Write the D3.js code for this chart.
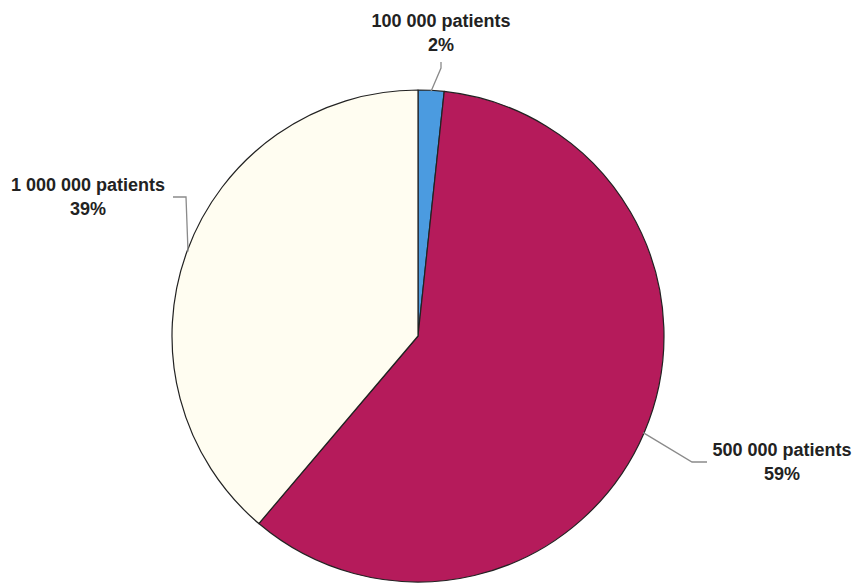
<!DOCTYPE html>
<html><head><meta charset="utf-8">
<script src="https://cdn.jsdelivr.net/npm/d3@7"></script>
<style>html,body{margin:0;padding:0;background:#fff;}</style>
</head><body>
<svg id="c" width="858" height="586"></svg>
<script>
const categories = ["100 000 patients", "500 000 patients", "1 000 000 patients"];
const values = [1.7, 59.5, 38.8];
const pctLabels = ["2%", "59%", "39%"];
const colors = ["#4b9be0", "#b51b5b", "#fffdf1"];

const svg = d3.select("#c");
const cx = 418, cy = 336, r = 246;
const g = svg.append("g").attr("transform", `translate(${cx},${cy})`);
const pie = d3.pie().sort(null).value(d => d)(values);
const arc = d3.arc().innerRadius(0).outerRadius(r);
g.selectAll("path.s").data(pie).enter().append("path")
  .attr("d", arc).attr("fill", (d, i) => colors[i])
  .attr("stroke", "#222").attr("stroke-width", 1.2).attr("stroke-linejoin", "round");

// label layout (offsets relative to slice mid-angle anchor)
const labelPos = [
  {x: 441, y: 27, line: [[0, 0], [441, 68], [441, 62]]},
  {x: 782, y: 456, line: [[0, 0], [692, 462], [707, 462]]},
  {x: 88, y: 191, line: [[0, 0], [186, 197], [173, 197]]}
];
pie.forEach((d, i) => {
  const a = (d.startAngle + d.endAngle) / 2;
  const p0 = [cx + Math.sin(a) * (r - 1), cy - Math.cos(a) * (r - 1)];
  const pts = labelPos[i].line.slice();
  pts[0] = p0;
  svg.append("path").attr("d", d3.line()(pts)).attr("fill", "none")
    .attr("stroke", "#8a8a8a").attr("stroke-width", 1.3);
  const t = svg.append("text").attr("x", labelPos[i].x).attr("y", labelPos[i].y)
    .attr("text-anchor", "middle").attr("font-family", "Liberation Sans, Arial, sans-serif")
    .attr("font-weight", "bold").attr("font-size", 18).attr("fill", "#222");
  t.append("tspan").attr("x", labelPos[i].x).text(categories[i]);
  t.append("tspan").attr("x", labelPos[i].x).attr("dy", 23.5).text(pctLabels[i]);
});
</script>
</body></html>
